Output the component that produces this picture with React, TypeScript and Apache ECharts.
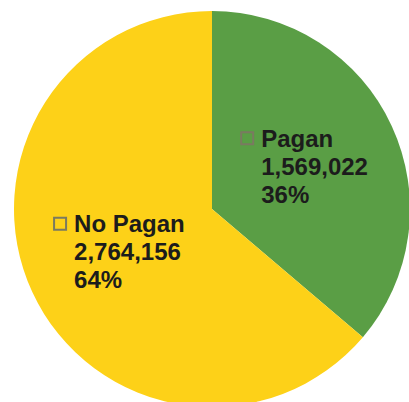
import React, { useEffect, useRef } from "react";
import * as echarts from "echarts";

const categories = ["Pagan", "No Pagan"];
const values = [1569022, 2764156];
const percents = ["36%", "64%"];
const colors = ["#5a9e45", "#fdd118"];

export default function App() {
  const ref = useRef<HTMLDivElement>(null);
  useEffect(() => {
    document.body.style.margin = "0";
    const chart = echarts.init(ref.current!, null, { renderer: "svg" });
    const txt = {
      fontFamily: "Liberation Sans, Arial, sans-serif",
      fontWeight: "bold" as const,
      fontSize: 24,
      color: "#1c1c1c",
      lineHeight: 28,
      align: "left" as const,
    };
    chart.setOption({
      animation: false,
      backgroundColor: "#ffffff",
      series: [
        {
          type: "pie",
          center: [212, 209],
          radius: [0, 198],
          startAngle: 90,
          clockwise: true,
          silent: true,
          itemStyle: { borderWidth: 0 },
          label: {
            show: true,
            position: "inside",
            formatter: (p: any) =>
              `{box|}{gap|}{t|${p.name}}\n{sp|}{t|${values[p.dataIndex].toLocaleString("en-US")}}\n{sp|}{t|${percents[p.dataIndex]}}`,
            rich: {
              box: {
                width: 12,
                height: 12,
                borderColor: "#7a7a60",
                borderWidth: 1,
                backgroundColor: "transparent",
                align: "left",
              },
              gap: { width: 8, height: 12, align: "left" },
              sp: { width: 20, height: 12, align: "left" },
              t: txt,
            },
          },
          labelLine: { show: false },
          data: categories.map((c, i) => ({
            name: c,
            value: values[i],
            itemStyle: { color: colors[i] },
          })),
        },
      ],
    });
    return () => chart.dispose();
  }, []);
  return <div ref={ref} style={{ width: 409, height: 402 }} />;
}
